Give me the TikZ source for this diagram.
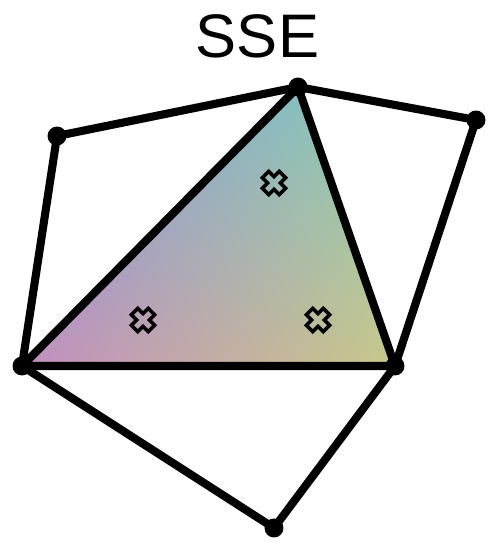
\documentclass[tikz,border=0pt]{standalone}
\usepackage{fontspec}
\setmainfont{Liberation Sans}

% colour of the triangle, linear in x and y
\pgfdeclarefunctionalshading{ssefill}{\pgfpointorigin}{\pgfpoint{100bp}{100bp}}{}{
  2 copy -0.005155 mul exch 0.00048 mul add 0.876875 add 3 1 roll
  2 copy 0.0004848 mul exch 0.00448 mul add 0.43588 add 3 1 roll
  0.0030932 mul exch -0.00418 mul add 0.77717 add
}

\begin{document}
\begin{tikzpicture}[x=0.02cm,y=0.02cm]
  \useasboundingbox (0,0) rectangle (500,549);
  \tikzset{vdot/.style={circle,fill=black,inner sep=0pt,minimum size=0.38cm},
    sseline/.style={line width=4.6pt,line cap=round,line join=round},
    sigmax/.pic={\draw[line width=2pt,rotate=45] (-4.5,-12) -- (4.5,-12) -- (4.5,-4.5)
      -- (12,-4.5) -- (12,4.5) -- (4.5,4.5) -- (4.5,12) -- (-4.5,12) -- (-4.5,4.5)
      -- (-12,4.5) -- (-12,-4.5) -- (-4.5,-4.5) -- cycle;}}

% points
  \coordinate (A) at (22,183);
  \coordinate (B) at (395,183);
  \coordinate (C) at (298,462);
  \coordinate (D) at (57,413);
  \coordinate (E) at (476,429);
  \coordinate (F) at (274,21);

% title
  \node[anchor=base, font=\fontsize{35}{40}\selectfont] (title) at (257.5,492) {SSE};

% triangle
  \path[shading=ssefill] (A) -- (B) -- (C) -- cycle;
  \pic (sa) at (274,366) {sigmax};
  \pic (sb) at (143,229) {sigmax};
  \pic (sc) at (318,229) {sigmax};

% edges
  \draw[sseline] (A) -- (B) -- (C) -- cycle;
  \draw[sseline] (A) -- (D) -- (C) -- (E) -- (B) -- (F) -- cycle;

% vertices
  \node[vdot] (dA) at (A) {};
  \node[vdot] (dB) at (B) {};
  \node[vdot] (dC) at (C) {};
  \node[vdot] (dD) at (D) {};
  \node[vdot] (dE) at (E) {};
  \node[vdot] (dF) at (F) {};
\end{tikzpicture}
\end{document}
